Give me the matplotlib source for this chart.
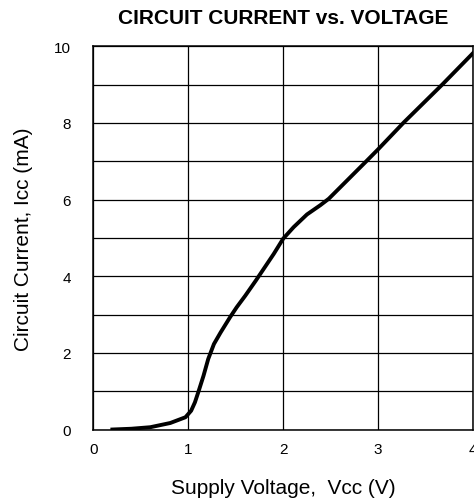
import matplotlib
matplotlib.use('Agg')
import matplotlib.pyplot as plt

plt.rcParams['font.family'] = ['Liberation Sans', 'DejaVu Sans']

# values
vcc = [0.2, 0.4, 0.6, 0.81, 0.97, 1.03, 1.07, 1.11, 1.16, 1.21, 1.27, 1.34, 1.44, 1.51, 1.60,
       1.71, 1.90, 2.0, 2.11, 2.25, 2.39, 2.48, 2.67, 2.88, 3.0, 3.27, 3.68, 4.0]
icc = [0.0, 0.02, 0.06, 0.17, 0.32, 0.49, 0.71, 1.01, 1.40, 1.84, 2.23, 2.53, 2.93, 3.19, 3.49,
       3.88, 4.58, 4.98, 5.28, 5.61, 5.85, 6.02, 6.49, 7.01, 7.31, 8.01, 9.01, 9.82]

xticks = [0, 1, 2, 3, 4]
yticks = [0, 2, 4, 6, 8, 10]

fig = plt.figure(figsize=(4.74, 5.02), dpi=100)
ax = fig.add_axes([0.197, 0.1424, 0.801, 0.7636])

ax.plot(vcc, icc, color='black', linewidth=2.8, solid_joinstyle='round')

ax.set_xlim(0, 4)
ax.set_ylim(0, 10)
ax.set_xticks(xticks)
ax.set_yticks(yticks)
ax.set_yticks([1, 3, 5, 7, 9], minor=True)
ax.grid(True, which='both', color='black', linewidth=0.9)
ax.set_axisbelow(True)
ax.tick_params(axis='both', which='both', length=0, labelsize=11)
ax.tick_params(axis='x', pad=9)
ax.tick_params(axis='y', pad=16)
for s in ax.spines.values():
    s.set_linewidth(1.1)

ax.set_title('CIRCUIT CURRENT vs. VOLTAGE', fontsize=15, fontweight='bold', pad=17)
ax.set_xlabel('Supply Voltage,  Vcc (V)', fontsize=15, labelpad=16)
ax.set_ylabel('Circuit Current, Icc (mA)', fontsize=15, labelpad=15)

fig.savefig('out.png', dpi=100)
